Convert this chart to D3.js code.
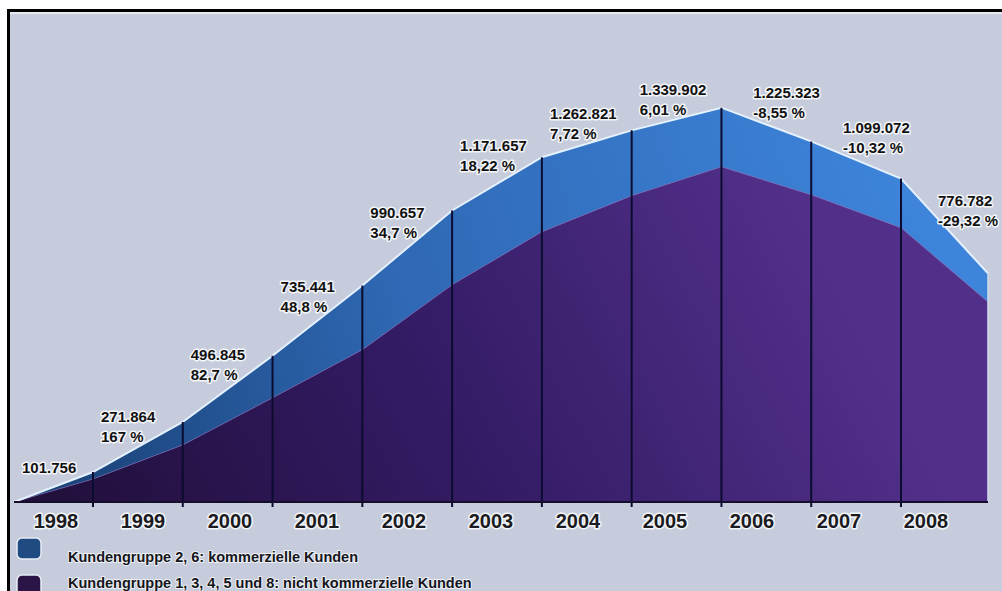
<!DOCTYPE html>
<html><head><meta charset="utf-8">
<script src="https://cdn.jsdelivr.net/npm/d3@7"></script>
<style>body{margin:0;background:#fff;} svg{display:block;}</style>
</head><body>
<svg id="chart" width="1002" height="591"></svg>
<script>
// ---------- data ----------
const years = ["1998","1999","2000","2001","2002","2003","2004","2005","2006","2007","2008"];
const totals = [101756, 271864, 496845, 735441, 990657, 1171657, 1262821, 1339902, 1225323, 1099072, 776782];
const nonCommercial = [78000, 194000, 354000, 517000, 738000, 918000, 1041000, 1139000, 1044000, 932000, 680000];
const commercial = [23756, 77864, 142845, 218441, 252657, 253657, 221821, 200902, 181323, 167072, 96782];
const changes = ["", "167 %", "82,7 %", "48,8 %", "34,7 %", "18,22 %", "7,72 %", "6,01 %", "-8,55 %", "-10,32 %", "-29,32 %"];
const seriesNames = ["Kundengruppe 2, 6: kommerzielle Kunden", "Kundengruppe 1, 3, 4, 5 und 8: nicht kommerzielle Kunden"];

// ---------- setup ----------
const svg = d3.select("#chart");
const n = years.length;
const x = d3.scaleLinear().domain([0, 1, n - 1, n]).range([14, 93, 901, 988]);
const y = d3.scaleLinear().domain([0, 1400000]).range([502, 90]);
const yearX = d3.scalePoint().domain(years).range([56, 926]);
const de = d3.formatLocale({decimal: ",", thousands: ".", grouping: [3], currency: ["", "€"]});
const fmt = de.format(",d");

const defs = svg.append("defs");
const gBlue = defs.append("linearGradient").attr("id", "gBlue")
  .attr("gradientUnits", "userSpaceOnUse").attr("x1", 14).attr("y1", 480).attr("x2", 900).attr("y2", 150);
gBlue.append("stop").attr("offset", 0).attr("stop-color", "#183f72");
gBlue.append("stop").attr("offset", 0.45).attr("stop-color", "#2f68b4");
gBlue.append("stop").attr("offset", 1).attr("stop-color", "#3d84da");
const gPurple = defs.append("linearGradient").attr("id", "gPurple")
  .attr("gradientUnits", "userSpaceOnUse").attr("x1", 60).attr("y1", 502).attr("x2", 760).attr("y2", 130);
gPurple.append("stop").attr("offset", 0).attr("stop-color", "#22103d");
gPurple.append("stop").attr("offset", 0.5).attr("stop-color", "#341c66");
gPurple.append("stop").attr("offset", 1).attr("stop-color", "#52308a");

// frame & background
svg.append("rect").attr("x", 10).attr("y", 12).attr("width", 992).attr("height", 579).attr("fill", "#c6ccdb");
svg.append("rect").attr("x", 10).attr("y", 12).attr("width", 992).attr("height", 2).attr("fill", "#e6eaf1");
svg.append("rect").attr("x", 7).attr("y", 9).attr("width", 995).attr("height", 3).attr("fill", "#000");
svg.append("rect").attr("x", 7).attr("y", 9).attr("width", 3).attr("height", 582).attr("fill", "#000");

// ---------- stacked areas ----------
const rows = [{idx: 0, nc: 0, c: 0}].concat(years.map((yr, i) => ({idx: i + 1, nc: nonCommercial[i], c: commercial[i]})));
const layers = d3.stack().keys(["nc", "c"])(rows);
const area = d3.area().x(d => x(d.data.idx)).y0(d => y(d[0])).y1(d => y(d[1]));
const topLine = d3.line().x(d => x(d.data.idx)).y(d => y(d[1]));

svg.append("path").datum(layers[1]).attr("d", area).attr("fill", "url(#gBlue)");
svg.append("path").datum(layers[0]).attr("d", area).attr("fill", "url(#gPurple)");
svg.append("path").datum(layers[0]).attr("d", topLine).attr("fill", "none")
  .attr("stroke", "#7d6cc0").attr("stroke-opacity", 0.6).attr("stroke-width", 1);
svg.append("path").datum(layers[1]).attr("d", topLine).attr("fill", "none")
  .attr("stroke", "#e4f1ff").attr("stroke-width", 2);
// right edge highlight
const last = layers[1][n];
svg.append("line").attr("x1", x(n)).attr("x2", x(n)).attr("y1", y(last[1])).attr("y2", y(0))
  .attr("stroke", "#cfdcee").attr("stroke-width", 1.5);

// vertical separators
svg.selectAll("line.sep").data(d3.range(1, n)).join("line").attr("class", "sep")
  .attr("x1", i => x(i)).attr("x2", i => x(i))
  .attr("y1", i => y(layers[1][i][1])).attr("y2", y(0) + 5)
  .attr("stroke", "#0c0c30").attr("stroke-width", 2);
// baseline
svg.append("line").attr("x1", x(0)).attr("x2", x(n)).attr("y1", y(0)).attr("y2", y(0))
  .attr("stroke", "#160c2c").attr("stroke-width", 2);

// ---------- year labels ----------
svg.selectAll("text.year").data(years).join("text").attr("class", "year")
  .attr("x", d => yearX(d)).attr("y", 528).attr("text-anchor", "middle")
  .attr("font-family", "'Liberation Sans', Arial, sans-serif").attr("font-weight", "bold")
  .attr("font-size", 20).attr("fill", "#1b1b22")
  .attr("stroke", "#f4f6fa").attr("stroke-width", 3).attr("stroke-linejoin", "round")
  .attr("paint-order", "stroke").text(d => d);

// ---------- value labels ----------
function topY(px) {
  const pts = layers[1];
  if (px <= x(0)) return y(0);
  if (px >= x(n)) return y(pts[n][1]);
  for (let i = 0; i < n; i++) {
    const xa = x(i), xb = x(i + 1);
    if (px >= xa && px <= xb) {
      const t = (px - xa) / (xb - xa);
      return y(pts[i][1]) + t * (y(pts[i + 1][1]) - y(pts[i][1]));
    }
  }
  return y(0);
}
function minCurve(a, b) {
  let m = Infinity;
  for (let p = a; p <= b; p += 1) m = Math.min(m, topY(p));
  return m;
}
const labG = svg.append("g")
  .attr("font-family", "'Liberation Sans', Arial, sans-serif").attr("font-weight", "bold")
  .attr("font-size", 15).attr("fill", "#111")
  .attr("stroke", "#f4f6fa").attr("stroke-width", 3).attr("stroke-linejoin", "round")
  .attr("paint-order", "stroke");
const pad = 2;
totals.forEach((v, k) => {
  const falling = k > 0 && v < totals[k - 1];
  const lx = k === n - 1 ? x(n) - 50 : (falling ? x(k + 1) - 58 : x(k) + 8);
  const t1 = labG.append("text").attr("x", lx).text(fmt(v));
  const w1 = t1.node().getComputedTextLength();
  if (!changes[k]) {
    t1.attr("y", minCurve(lx, lx + w1) - 5);
    return;
  }
  const t2 = labG.append("text").attr("x", lx).text(changes[k]);
  const w2 = t2.node().getComputedTextLength();
  let b2;
  if (k === n - 1) b2 = y(v) - 47;
  else b2 = Math.min(minCurve(lx, lx + w2) - pad, minCurve(lx, lx + w1) - pad + 20);
  t2.attr("y", b2);
  t1.attr("y", b2 - 20);
});

// ---------- legend ----------
const legColors = ["#1f4a82", "#2a1546"];
const leg = svg.append("g");
seriesNames.forEach((name, i) => {
  leg.append("rect").attr("x", 17).attr("y", 538 + i * 37).attr("width", 24).attr("height", 21).attr("rx", 5)
    .attr("fill", legColors[i]).attr("stroke", "#e8edf5").attr("stroke-width", 1.5);
  leg.append("text").attr("x", 68).attr("y", 562 + i * 26)
    .attr("font-family", "'Liberation Sans', Arial, sans-serif").attr("font-weight", "bold")
    .attr("font-size", 14.5).attr("fill", "#15151c")
    .attr("stroke", "#eef1f6").attr("stroke-width", 2).attr("stroke-linejoin", "round")
    .attr("paint-order", "stroke").text(name);
});
</script>
</body></html>
